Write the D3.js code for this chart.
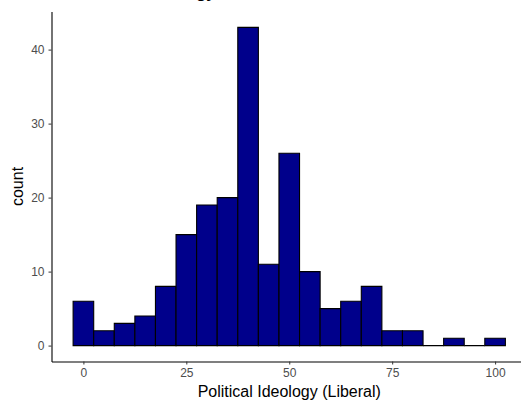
<!DOCTYPE html>
<html>
<head>
<meta charset="utf-8">
<script src="https://cdn.jsdelivr.net/npm/d3@7"></script>
<style>
  body { margin: 0; background: #fff; }
  text { font-family: "Liberation Sans", Arial, sans-serif; }
</style>
</head>
<body>
<script>
// bin centres (binwidth 5) and counts
var binCenters = [0, 5, 10, 15, 20, 25, 30, 35, 40, 45, 50, 55, 60, 65, 70, 75, 80, 85, 90, 95, 100];
var binCounts = [6, 2, 3, 4, 8, 15, 19, 20, 43, 11, 26, 10, 5, 6, 8, 2, 2, 0, 1, 0, 1];
var xTicks = [0, 25, 50, 75, 100];
var yTicks = [0, 10, 20, 30, 40];
var binWidth = 5;

var W = 521, H = 404;
var svg = d3.select("body").append("svg").attr("width", W).attr("height", H);

// same expansion as ggplot (5% each side)
var xLo = binCenters[0] - binWidth / 2, xHi = binCenters[binCenters.length - 1] + binWidth / 2;
var xPad = (xHi - xLo) * 0.05;
var yMax = d3.max(binCounts), yPad = yMax * 0.05;

var x = d3.scaleLinear().domain([xLo - xPad, xHi + xPad]).range([51.5, 527]);
var y = d3.scaleLinear().domain([-yPad, yMax + yPad]).range([361.5, 11.5]);

// title, cropped at the top edge in the original (only descenders show)
svg.append("text").attr("x", 76).attr("y", -2)
  .style("font-size", "17px").style("font-weight", "bold").attr("fill", "#000")
  .text("Political Ideology");

// bars - drawn as paths so empty bins still leave a flat outline at 0
var data = binCenters.map(function (c, i) { return { c: c, n: binCounts[i] }; });
svg.append("g").selectAll("path").data(data).enter().append("path")
  .attr("d", function (d) {
    var x0 = x(d.c - binWidth / 2), x1 = x(d.c + binWidth / 2), y0 = y(0), y1 = y(d.n);
    return "M" + x0 + "," + y0 + "V" + y1 + "H" + x1 + "V" + y0 + "Z";
  })
  .attr("fill", "#00008B")
  .attr("stroke", "#000")
  .attr("stroke-width", 1.1);

// axes
var xAxis = svg.append("g").attr("transform", "translate(0," + y(-yPad) + ")")
  .call(d3.axisBottom(x).tickValues(xTicks).tickSize(3).tickSizeOuter(0).tickPadding(4));
var yAxis = svg.append("g").attr("transform", "translate(" + x(xLo - xPad) + ",0)")
  .call(d3.axisLeft(y).tickValues(yTicks).tickSize(3).tickSizeOuter(0).tickPadding(4));

[xAxis, yAxis].forEach(function (a) {
  a.select(".domain").attr("stroke", "#000").attr("stroke-width", 1.1);
  a.selectAll(".tick line").attr("stroke", "#333");
  a.selectAll(".tick text").attr("fill", "#4D4D4D").style("font-size", "12px")
    .style("font-family", "'Liberation Sans', Arial, sans-serif");
});

// axis titles, centred on the panel
var xMid = (x.range()[0] + x.range()[1]) / 2, yMid = (y.range()[0] + y.range()[1]) / 2;
svg.append("text").attr("x", xMid).attr("y", 397).attr("text-anchor", "middle")
  .style("font-size", "16px").attr("fill", "#000").text("Political Ideology (Liberal)");
svg.append("text").attr("transform", "translate(23," + yMid + ") rotate(-90)")
  .attr("text-anchor", "middle").style("font-size", "16px").attr("fill", "#000").text("count");
</script>
</body>
</html>
